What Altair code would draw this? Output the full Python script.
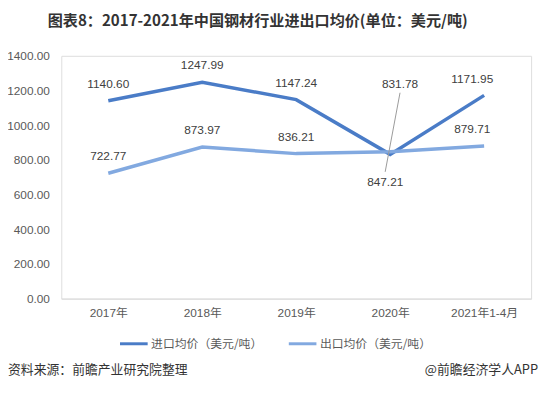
import altair as alt
import pandas as pd

years = ["2017年", "2018年", "2019年", "2020年", "2021年1-4月"]
import_vals = [1140.60, 1247.99, 1147.24, 831.78, 1171.95]
export_vals = [722.77, 873.97, 836.21, 847.21, 879.71]
series_names = ["进口均价（美元/吨）", "出口均价（美元/吨）"]
y_ticks = [0, 200, 400, 600, 800, 1000, 1200, 1400]
title_text = "图表8：2017-2021年中国钢材行业进出口均价(单位：美元/吨)"
source_text = "资料来源：前瞻产业研究院整理"
brand_text = "@前瞻经济学人APP"

colors = ["#4A7CC7", "#82A9E0"]
FONT = "Liberation Sans, Arial, Noto Sans CJK SC"
CJK = "Noto Sans CJK SC"

rows = []
for i, (yr, a, b) in enumerate(zip(years, import_vals, export_vals)):
    rows.append(dict(idx=i, year=yr, series=series_names[0], s=0, value=a, label=f"{a:.2f}"))
    rows.append(dict(idx=i, year=yr, series=series_names[1], s=1, value=b, label=f"{b:.2f}"))
df = pd.DataFrame(rows)

label_expr = "[" + ",".join(f"'{y}'" for y in years) + "][datum.value]"

x = alt.X(
    "idx:Q",
    scale=alt.Scale(domain=[-0.5, 4.5], nice=False, zero=False),
    axis=alt.Axis(values=list(range(len(years))), labelExpr=label_expr, title=None,
                  ticks=False, grid=False, domainColor="#D9D9D9", labelColor="#595959",
                  labelFontSize=12, labelPadding=9, labelFont=FONT),
)
y = alt.Y(
    "value:Q",
    scale=alt.Scale(domain=[0, 1400], nice=False),
    axis=alt.Axis(values=y_ticks, format=".2f", title=None, ticks=False, grid=False,
                  domain=False, labelPadding=12, labelColor="#595959", labelFontSize=12,
                  labelFont=FONT, labelOverlap=False),
)
color = alt.Color(
    "series:N",
    scale=alt.Scale(domain=series_names, range=colors),
    legend=alt.Legend(title=None, orient="none", legendX=58, legendY=276,
                      direction="horizontal", symbolType="stroke", symbolSize=784,
                      symbolStrokeWidth=3, labelFontSize=12, labelColor="#595959",
                      labelFont=CJK, labelOffset=2, columnPadding=20),
)

base = alt.Chart(df)
lines = base.mark_line(strokeWidth=3.5).encode(x=x, y=y, color=color)

txt = dict(fontSize=12, color="#404040", font=FONT)
lab_main = base.transform_filter("datum.idx < 3").mark_text(dy=-17, **txt).encode(
    x=x, y=y, text="label:N")
lab_last = base.transform_filter("datum.idx == 4").mark_text(dx=-12, dy=-17, **txt).encode(
    x=x, y=y, text="label:N")
lab_2020a = base.transform_filter("datum.idx == 3 && datum.s == 0").mark_text(dx=10, dy=-71, **txt).encode(
    x=x, y=y, text="label:N")
lab_2020b = base.transform_filter("datum.idx == 3 && datum.s == 1").mark_text(dx=-5, dy=31, **txt).encode(
    x=x, y=y, text="label:N")

leader_df = pd.DataFrame({"idx": [3.105], "value": [1187], "x2": [2.947], "y2": [731]})
leader = alt.Chart(leader_df).mark_rule(color="#999999", strokeWidth=1).encode(
    x=x, y=y, x2="x2:Q", y2="y2:Q")

foot_l = alt.Chart(pd.DataFrame({"t": [source_text]})).mark_text(
    align="left", baseline="middle", fontSize=13, color="#333333", font=CJK).encode(
    text="t:N", x=alt.value(-54), y=alt.value(318))
foot_r = alt.Chart(pd.DataFrame({"t": [brand_text]})).mark_text(
    align="right", baseline="middle", fontSize=13, color="#333333", font=CJK).encode(
    text="t:N", x=alt.value(483), y=alt.value(318))

chart = alt.layer(lines, leader, lab_main, lab_last, lab_2020a, lab_2020b, foot_l, foot_r).properties(
    width=476, height=246,
    title=alt.TitleParams(title_text, fontSize=15.3, fontWeight="bold", font=CJK, color="#333333",
                          anchor="middle", dx=-39, offset=21),
    autosize=alt.AutoSizeParams(type="none"),
    padding={"left": 54, "top": 46, "right": 8, "bottom": 80},
).configure_view(stroke=None).configure(background="white")

chart.save("out.html", embed_options={"renderer": "svg", "actions": False})
